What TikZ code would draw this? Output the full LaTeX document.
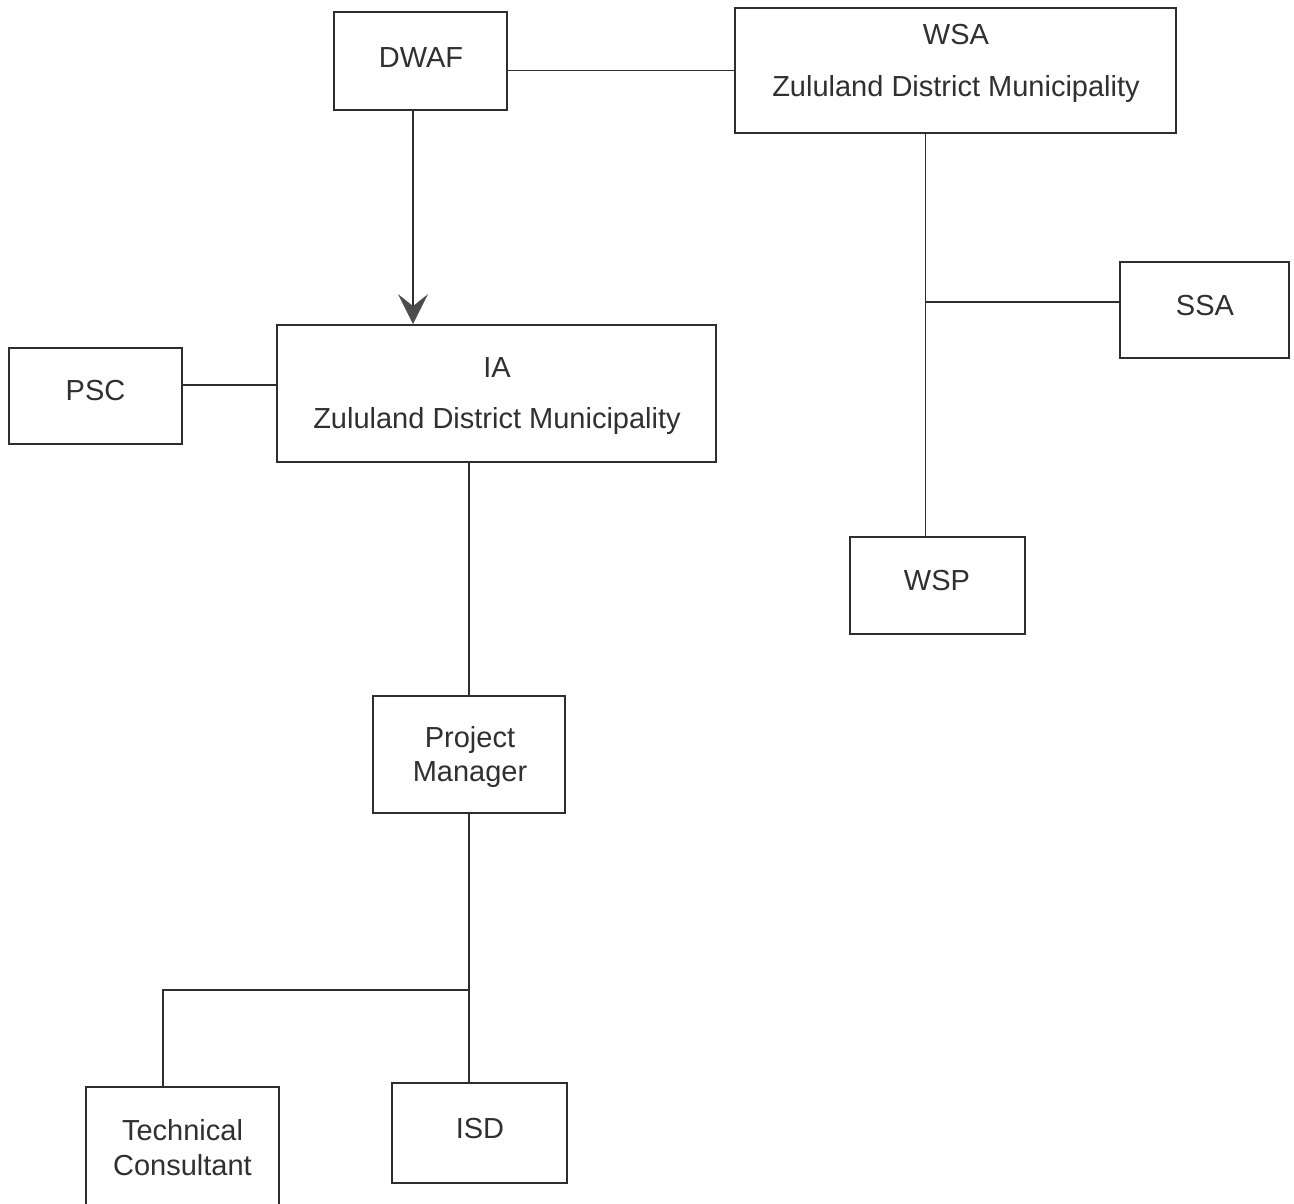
\documentclass[tikz,border=0pt]{standalone}
\usepackage{fontspec}
\setmainfont{Liberation Sans}
\usetikzlibrary{arrows.meta}
\definecolor{ink}{HTML}{2E2E2E}
\definecolor{tinkc}{HTML}{303030}
\begin{document}
\begin{tikzpicture}[x=1pt,y=-1pt,
  box/.style={draw=ink,line width=1.8pt,rectangle,inner sep=0pt},
  txt/.style={text=tinkc,font=\fontsize{29}{34}\selectfont,align=center,inner sep=0pt},
  conn/.style={draw=ink,line width=1.6pt},
  arr/.style={conn,-{Stealth[length=30pt,width=30pt,inset=12pt,color=ink!85]}}]
\useasboundingbox (0,0) rectangle (1294,1203);
\clip (0,0) rectangle (1294,1203);
\fill[white] (0,0) rectangle (1294,1203);
% boxes
\node[box,minimum width=173pt,minimum height=98pt] (dwaf) at (420.5,61) {};
\node[txt] (dwaft) at (421,58) {DWAF};
\node[box,minimum width=441pt,minimum height=125pt] (wsa) at (955.5,70.5) {};
\node[txt,font=\fontsize{29}{52}\selectfont] (wsat) at (956,63) {WSA\\Zululand District Municipality};
\node[box,minimum width=439pt,minimum height=137pt] (ia) at (496.5,393.5) {};
\node[txt,font=\fontsize{29}{51}\selectfont] (iat) at (497,396) {IA\\Zululand District Municipality};
\node[box,minimum width=173pt,minimum height=96pt] (psc) at (95.5,396) {};
\node[txt] (psct) at (95.5,391) {PSC};
\node[box,minimum width=169pt,minimum height=96pt] (ssa) at (1204.5,310) {};
\node[txt] (ssat) at (1205,306) {SSA};
\node[box,minimum width=175pt,minimum height=97pt] (wsp) at (937.5,585.5) {};
\node[txt] (wspt) at (937,581) {WSP};
\node[box,minimum width=192pt,minimum height=117pt] (pm) at (469,754.5) {};
\node[txt] (pmt) at (470,757) {Project\\Manager};
\node[box,minimum width=193pt,minimum height=124pt] (tc) at (182.5,1149) {};
\node[txt,font=\fontsize{29}{35}\selectfont] (tct) at (182.5,1148) {Technical\\Consultant};
\node[box,minimum width=175pt,minimum height=100pt] (isd) at (479.5,1133) {};
\node[txt] (isdt) at (480,1129) {ISD};
% connectors
\draw[conn] (dwaf.east |- wsa.west) -- (wsa.west);
\draw[arr] ([xshift=-7.5pt]dwaf.south) -- ([xshift=-7.5pt]dwaf.south |- ia.north);
\draw[conn] ([yshift=11pt]psc.east) -- ([yshift=11pt]psc.east -| ia.west);
\coordinate (wsadown) at ([xshift=-30pt]wsa.south);
\draw[conn] (wsadown) -- (wsadown |- wsp.north);
\coordinate (j1) at (925.5,302);
\draw[conn] (j1) -- (j1 -| ssa.west);
\draw[conn] (pm.north |- ia.south) -- (pm.north);
\draw[conn] (pm.south) -- (pm.south |- isd.north);
\coordinate (j2) at (469,990);
\draw[conn] (j2) -| ([xshift=-19.5pt]tc.north);
\end{tikzpicture}
\end{document}
